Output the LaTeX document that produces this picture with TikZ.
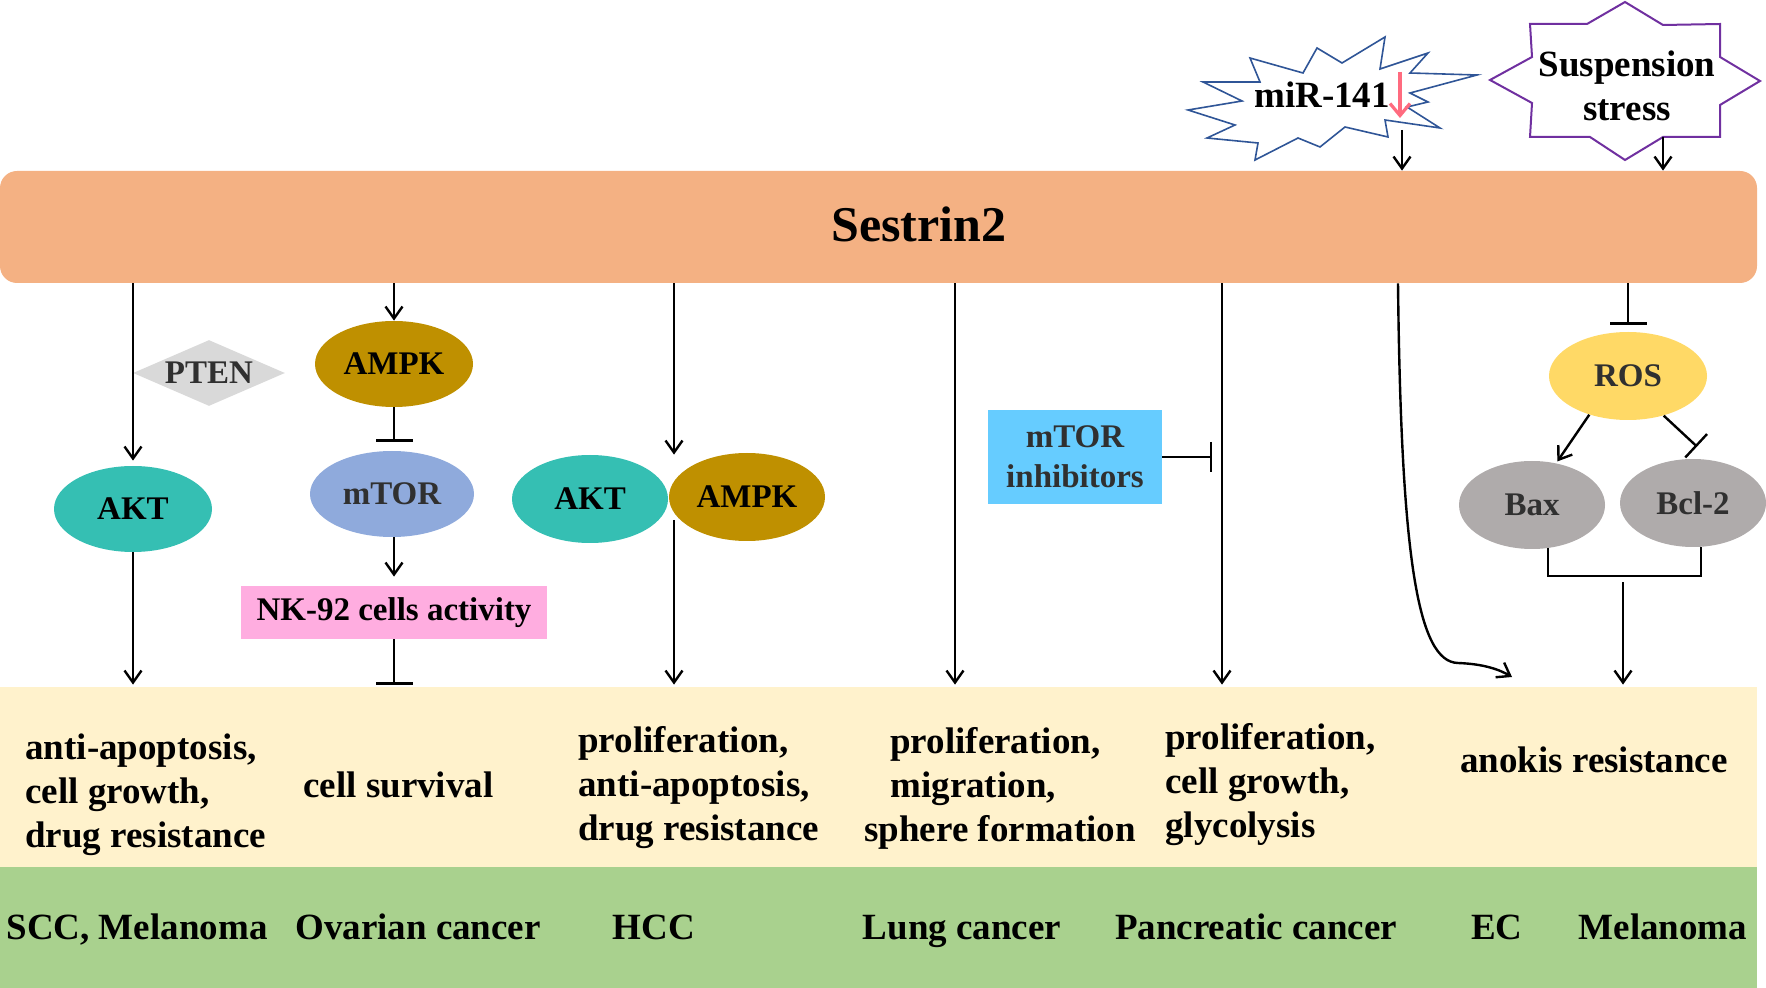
\documentclass[tikz,border=0pt]{standalone}
\usepackage{fontspec}
\setmainfont{Liberation Serif}
\usetikzlibrary{shapes.geometric,arrows.meta,calc}
\definecolor{barc}{HTML}{F4B183}
\definecolor{aktc}{HTML}{35BFB3}
\definecolor{ampkc}{HTML}{BF9000}
\definecolor{mtorc}{HTML}{8FAADC}
\definecolor{nkc}{HTML}{FFADE0}
\definecolor{ptenc}{HTML}{D9D9D9}
\definecolor{mic}{HTML}{66CCFF}
\definecolor{rosc}{HTML}{FFD966}
\definecolor{bxc}{HTML}{AFABAB}
\definecolor{yel}{HTML}{FFF2CC}
\definecolor{grn}{HTML}{A9D18E}
\definecolor{mirc}{HTML}{2F5597}
\definecolor{susc}{HTML}{7030A0}
\definecolor{redc}{HTML}{FF6B7F}
\definecolor{dgray}{HTML}{303030}
\tikzset{
 arr/.style={line width=1.2pt,-{Straight Barb[length=6pt,width=8.5pt,line width=1.2pt]}},
 inh/.style={line width=1.2pt,-{Bar[width=18.5pt,line width=1.2pt]}},
 lbl/.style={font=\fontsize{16.5}{20}\selectfont\bfseries},
 ell/.style={ellipse, inner sep=0pt, lbl},
 txt/.style={font=\fontsize{18.5}{22}\selectfont\bfseries, inner sep=0pt},
 band/.style={rectangle, inner sep=0pt, minimum width=878.5pt},
}
\begin{document}
\begin{tikzpicture}[x=0.5pt,y=-0.5pt]
\useasboundingbox (0,0) rectangle (1766,988);
% bands
\node[band, fill=yel, minimum height=90pt] (band) at (878.5,777) {};
\node[band, fill=grn, minimum height=60.5pt] (dis) at (878.5,927.5) {};
% Sestrin2 bar
\node[rectangle, rounded corners=8.5pt, fill=barc, minimum width=878.5pt, minimum height=56pt, inner sep=0pt] (bar) at (878.5,227) {};
\node[font=\fontsize{25}{30}\selectfont\bfseries] (ses) at (919,224) {Sestrin2};
% miR-141 starburst
\draw[mirc, line width=0.8pt, fill=white] (1188,110) -- (1242,101) -- (1203,82) -- (1260,82) -- (1250,58) -- (1303,73) -- (1317,48) -- (1342,63) -- (1385,37) -- (1380,69) -- (1428,53) -- (1410,73) -- (1477,75) -- (1410,93) -- (1428,102) -- (1407,107) -- (1440,128) -- (1385,120) -- (1388,137) -- (1345,127) -- (1320,147) -- (1298,138) -- (1255,160) -- (1258,143) -- (1207,138) -- (1235,125) -- cycle;
\node[txt] (mir) at (1322,95) {miR-141};
\coordinate (ra1) at (1400,72);
\coordinate (ra2) at (1400,118);
\draw[redc, line width=1.6pt, -{Straight Barb[length=6pt,width=10pt,line width=1.6pt]}] (ra1) -- (ra2);
\coordinate (mirb) at (1402,130);
\draw[arr] (mirb) -- (mirb |- bar.north);
% Suspension stress star
\draw[susc, line width=1pt, fill=white] (1625,2) -- (1663,25) -- (1720,24) -- (1720,57) -- (1760,81) -- (1720,105) -- (1720,137) -- (1663,137) -- (1625,160) -- (1590,137) -- (1530,137) -- (1532,103) -- (1490,80) -- (1532,57) -- (1530,24) -- (1587,24) -- cycle;
\node[txt, align=center, font=\fontsize{18.5}{22}\selectfont\bfseries] (sus) at (1627,85.5) {Suspension\\stress};
\coordinate (susb) at (1663,137);
\draw[arr] (susb) -- (susb |- bar.north);
% nodes
\node[ell, fill=aktc, minimum width=79pt, minimum height=43pt] (akt1) at (133,509) {AKT};
\node[diamond, aspect=2.3, fill=ptenc, minimum width=76pt, minimum height=33pt, inner sep=0pt, lbl, text=dgray] (pten) at (209,373) {PTEN};
\node[ell, fill=ampkc, minimum width=79pt, minimum height=43pt] (ampk1) at (394,364) {AMPK};
\node[ell, fill=mtorc, minimum width=82pt, minimum height=43pt, text=dgray] (mtor1) at (392,494) {mTOR};
\node[rectangle, fill=nkc, minimum width=153pt, minimum height=26.5pt, lbl, inner sep=0pt] (nk) at (394,612.5) {NK-92 cells activity};
\node[ell, fill=aktc, minimum width=78pt, minimum height=44pt] (akt2) at (590,499) {AKT};
\node[ell, fill=ampkc, minimum width=78pt, minimum height=44pt] (ampk2) at (747,497) {AMPK};
\node[rectangle, fill=mic, minimum width=87pt, minimum height=47pt, lbl, text=dgray, align=center, inner sep=0pt] (mi) at (1075,457) {mTOR\\inhibitors};
\node[ell, fill=rosc, minimum width=79pt, minimum height=44pt, text=dgray] (ros) at (1628,376) {ROS};
\node[ell, fill=bxc, minimum width=73pt, minimum height=44pt, text=dgray] (bax) at (1532,505) {Bax};
\node[ell, fill=bxc, minimum width=73pt, minimum height=44pt, text=dgray] (bcl) at (1693,503) {Bcl-2};
% lane 1
\draw[arr, shorten >=2.5pt] (bar.south -| akt1) -- (akt1.north);
\draw[arr, shorten >=1pt] (akt1.south) -- (band.north -| akt1);
% lane 2
\draw[arr] (bar.south -| ampk1) -- (ampk1.north);
\draw[inh, shorten >=4.5pt] (ampk1.south) -- (mtor1.north -| ampk1);
\draw[arr, shorten >=4.5pt] (mtor1.south -| ampk1) -- (nk.north);
\draw[inh, shorten >=1pt] (nk.south) -- (band.north -| nk);
% lane 3
\coordinate (J) at ($(akt2.east)!0.5!(ampk2.west)$);
\coordinate (L3) at (674,0);
\draw[arr] (bar.south -| L3) -- (akt2.north -| L3);
\draw[arr, shorten <=11pt, shorten >=1pt] (J -| L3) -- (band.north -| L3);
% lane 4
\coordinate (L4) at (955,0);
\draw[arr, shorten >=1pt] (bar.south -| L4) -- (band.north -| L4);
% lane 5
\coordinate (L5) at (1222,0);
\draw[arr, shorten >=1pt] (bar.south -| L5) -- (band.north -| L5);
\draw[line width=1.2pt, -{Bar[width=15pt,line width=1.2pt]}, shorten >=5pt] (mi.east) -- (mi.east -| L5);
% lane 6
\coordinate (L6) at (1398,0);
\coordinate (ecend) at (1512,677);
\draw[arr] (bar.south -| L6) .. controls (1401,560) and (1418,662) .. (1458,663) .. controls (1485,664) and (1500,670) .. (ecend);
% lane 7
\draw[inh, shorten >=3.5pt] (bar.south -| ros) -- (ros.north);
\draw[arr, shorten >=1pt] (ros.-135) -- (bax.60);
\draw[line width=1.2pt, -{Bar[width=16pt,line width=1.2pt]}] (ros.-48) -- ($(bcl.north)+(4,-12)$);
\coordinate (brk) at (1623,576);
\draw[line width=1.2pt] (bax.-70) |- (brk) -| (bcl.-80);
\draw[arr, shorten <=3pt, shorten >=1pt] (brk) -- (band.north -| brk);
% effects
\node[txt, anchor=west, align=left] (t1) at (25,795) {anti-apoptosis,\\cell growth,\\drug resistance};
\node[txt, anchor=west] (t2) at (303,785) {cell survival};
\node[txt, anchor=west, align=left] (t3) at (578,788) {proliferation,\\anti-apoptosis,\\drug resistance};
\node[txt, anchor=west, align=left] (t4) at (864,788) {\hspace*{13pt}proliferation,\\\hspace*{13pt}migration,\\sphere formation};
\node[txt, anchor=west, align=left] (t5) at (1165,785) {proliferation,\\cell growth,\\glycolysis};
\node[txt] (t6) at (1594,760) {anokis resistance};
% diseases
\node[txt, anchor=base] (d1) at (137,939) {SCC, Melanoma};
\node[txt, anchor=base] (d2) at (418,939) {Ovarian cancer};
\node[txt, anchor=base] (d3) at (654,939) {HCC};
\node[txt, anchor=base] (d4) at (962,939) {Lung cancer};
\node[txt, anchor=base] (d5) at (1256,939) {Pancreatic cancer};
\node[txt, anchor=base] (d6) at (1497,939) {EC};
\node[txt, anchor=base] (d7) at (1663,939) {Melanoma};
\end{tikzpicture}
\end{document}
